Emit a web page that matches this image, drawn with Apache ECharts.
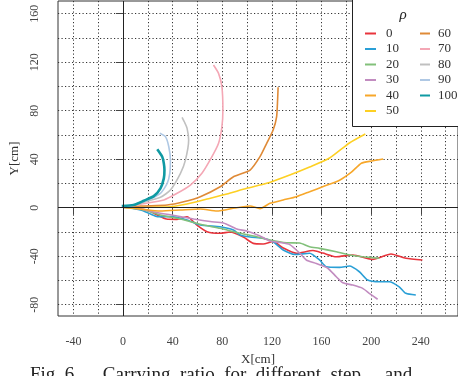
<!DOCTYPE html>
<html><head><meta charset="utf-8">
<script src="https://cdn.jsdelivr.net/npm/echarts@6/dist/echarts.min.js"></script>
<style>html,body{margin:0;padding:0;background:#fff}#c{width:458px;height:376px}</style>
</head><body><div id="c"></div>
<script>
const names = ['0','10','20','30','40','50','60','70','80','90','100'];
const colors = ['#e8343c','#2a9fd6','#82c07a','#c28cc0','#f7a72a','#fdd023','#df8a37','#f4a7b5','#c0c0c0','#afc8e4','#0f9aa3'];
const xTicks = [-40,0,40,80,120,160,200,240];
const yTicks = [-80,-40,0,40,80,120,160];
const xGrid = [-40,-20,0,20,40,60,80,100,120,140,160,180,200,220,240,260];
const yGrid = [-80,-60,-40,-20,0,20,40,60,80,100,120,140,160];
const zeroLines = [0];

const r0x = [0,19.6,27.6,35,43.6,51.6,59.6,67.7,78.3,86.3,97,105,113,121,129.1,139.8,153.1,161.1,171.9,185.2,201.2,216,228,241.3];
const r0y = [0.6,-1.9,-6,-9.3,-9.6,-7.4,-14.3,-19.8,-21.1,-20,-24.2,-29.4,-29.9,-27.9,-33.2,-37.6,-35.3,-37.4,-40.4,-39,-42.6,-38.2,-41.7,-43.1];
const r10x = [0,14.2,22.2,27.6,38.2,51.6,62.3,78.3,89,94.4,102.4,113,121,129.1,138.5,150.4,158.4,163.8,174.5,182.5,190.5,197.2,206.6,214.6,222.6,228,236];
const r10y = [0.6,-1.9,-5.2,-7.3,-7.3,-10.1,-14.3,-15.7,-18.4,-22.5,-24.2,-25.2,-28.2,-34.9,-38.6,-37.6,-43.1,-48.7,-49.2,-48.1,-52.8,-59.6,-61,-61,-65.2,-70.6,-72];
const r20x = [0,16.8,30.2,43.6,54.3,65,78.3,91.7,107.7,118.4,131.8,142.4,150.4,158.4,171.9,182.5,193.2,206.5];
const r20y = [0.6,-1.9,-6,-8.7,-11.5,-14.3,-17,-20.5,-23.9,-26.6,-28.9,-29.1,-32.2,-33.5,-36.3,-39,-40.4,-41.7];
const r30x = [0,14.2,24.8,43.6,57,70.3,81,91.7,99.7,110.4,118.4,126.4,134.4,142.4,147.7,155.8,164.8,171.9,177.2,185.2,193.2,198.5,205.2];
const r30y = [0.6,-1.1,-3.5,-6.8,-9.3,-11.4,-12.6,-17.6,-19.2,-23.3,-27.5,-28.7,-30.4,-37.4,-43.1,-46,-49.7,-56.9,-61.9,-63.8,-66.5,-70.6,-75.5];
const r40x = [0,14.2,30.2,46.3,62.3,75.7,90.3,102.4,110.4,118.4,129.1,139.8,150.4,162.4,174.5,184.1,192.1,200.2,209.7];
const r40y = [0.6,-1.1,-2.7,-1.9,-1.1,-2.7,-0.2,1.4,-0.7,3.6,6.4,9.1,13.2,17.9,22.7,29.3,36.7,38.5,40.2];
const r50x = [0,22.3,35.6,51.6,67.7,83.7,99.7,115.8,134.4,150.4,166.5,182.5,195.3];
const r50y = [0,0.6,0.6,3.1,7.2,11.3,16,20.1,27,33.6,41,53.4,60.8];
const r60x = [0,14.2,35.6,48.9,62.3,78.3,89,102.4,110.4,115.8,121,123.8,124.6,125];
const r60y = [0,1.4,2.2,4.9,9.1,17.3,25.6,31.1,42.1,53.1,64.1,75,88.8,99.3];
const r70x = [0,14.2,32.9,43.6,54.3,63.6,71.7,77,79.7,80.5,79.7,77,72.9];
const r70y = [0,3,6.4,11.9,18.7,28.4,42.1,53.1,66.8,80.6,99.8,110.8,117.7];
const r80x = [0,14.2,30.2,38.2,46.3,50.3,52.9,51.6,49.5,47.6];
const r80y = [0,3.9,8.6,14.6,28.4,39.3,55.8,65.7,70.7,74.6];
const r90x = [0,19.6,30.2,35.6,37.7,38.2,36.9,34.2,29.7];
const r90y = [0,6.4,11.9,20.1,28.4,39.3,50.3,58.6,61.4];
const r100x = [-1,8.6,16.8,24.8,30.2,32.9,33.4,32.9,31.6,27.6];
const r100y = [1.4,2.2,5.8,9.6,16,24.2,31.1,36.6,42,48.2];

const xs = [r0x,r10x,r20x,r30x,r40x,r50x,r60x,r70x,r80x,r90x,r100x];
const ys = [r0y,r10y,r20y,r30y,r40y,r50y,r60y,r70y,r80y,r90y,r100y];

const FONT = 'Liberation Serif';
const xMin = -52.4, xMax = 270, yMin = -89.3, yMax = 170.5;

const chart = echarts.init(document.getElementById('c'));
const series = [{
  type:'line', data:[], xAxisIndex:0, yAxisIndex:0, z:1, silent:true,
  markLine:{silent:true, symbol:'none', label:{show:false},
    lineStyle:{color:'#222', type:'solid', width:1},
    data: zeroLines.map(v=>({xAxis:v})).concat(zeroLines.map(v=>({yAxis:v})))}
}];
names.forEach((n,i)=>{
  series.push({
    name:n, type:'line', xAxisIndex:0, yAxisIndex:0, showSymbol:false, smooth:0.2,
    lineStyle:{color:colors[i], width: i===10 ? 2.6 : 1.6}, itemStyle:{color:colors[i]},
    data: xs[i].map((x,k)=>[x, ys[i][k]]), z:2+i*0.01
  });
});
const dotted = {show:true, lineStyle:{color:'#333', type:[1.2,2.3], width:1}};
const legText = {fontFamily:FONT, fontSize:13, color:'#333', lineHeight:15};
chart.setOption({
  animation:false,
  grid:{left:57, top:1, width:(xMax-xMin)*1.2475, height:(yMax-yMin)*1.2125, show:true, borderColor:'#333', borderWidth:1, backgroundColor:'transparent'},
  xAxis:[{
    type:'value', min:xMin, max:xMax, position:'bottom',
    axisLine:{show:false}, splitLine:{show:false},
    axisTick:{show:true, length:7, customValues:xTicks, lineStyle:{color:'#444'}},
    axisLabel:{show:true, customValues:xTicks, margin:20, fontFamily:FONT, fontSize:12, color:'#444'},
    name:'X[cm]', nameLocation:'middle', nameGap:37, nameTextStyle:{fontFamily:FONT, fontSize:13, color:'#333'}
  },{
    type:'value', min:xMin, max:xMax, position:'top',
    axisLine:{show:false}, axisLabel:{show:false},
    axisTick:{show:false, customValues:xGrid}, splitLine:dotted
  }],
  yAxis:[{
    type:'value', min:yMin, max:yMax, position:'left',
    axisLine:{show:false}, splitLine:{show:false},
    axisTick:{show:true, length:7, customValues:yTicks, lineStyle:{color:'#444'}},
    axisLabel:{show:true, customValues:yTicks, rotate:90, margin:17, fontFamily:FONT, fontSize:12, color:'#444'},
    name:'Y[cm]', nameLocation:'middle', nameGap:37, nameRotate:90, nameTextStyle:{fontFamily:FONT, fontSize:13, color:'#333'}
  },{
    type:'value', min:yMin, max:yMax, position:'right',
    axisLine:{show:false}, axisLabel:{show:false},
    axisTick:{show:false, customValues:yGrid}, splitLine:dotted
  }],
  legend:[{
    data:names.slice(0,6), orient:'vertical', left:360, top:21, itemWidth:11, itemHeight:2, itemGap:0.5,
    icon:'rect', textStyle:Object.assign({padding:[0,0,0,5]}, legText), selectedMode:false, z:10
  },{
    data:names.slice(6), orient:'vertical', left:415, top:21, itemWidth:10, itemHeight:2, itemGap:0.5,
    icon:'rect', textStyle:Object.assign({padding:[0,0,0,3]}, legText), selectedMode:false, z:10
  }],
  graphic:[
    {type:'rect', z:8, shape:{x:352.5, y:-5, width:120, height:131.5}, style:{fill:'#fff', stroke:'#222', lineWidth:1}},
    {type:'text', z:9, x:403, y:15, style:{text:'ρ', font:'italic 15px "Liberation Serif"', fill:'#222', align:'center', verticalAlign:'middle'}},
    {type:'text', z:9, x:30, y:366, style:{text:'Fig. 6.     Carrying  ratio  for  different  step     and', font:'19px "Liberation Serif"', fill:'#222'}}
  ],
  series:series
});
</script></body></html>
